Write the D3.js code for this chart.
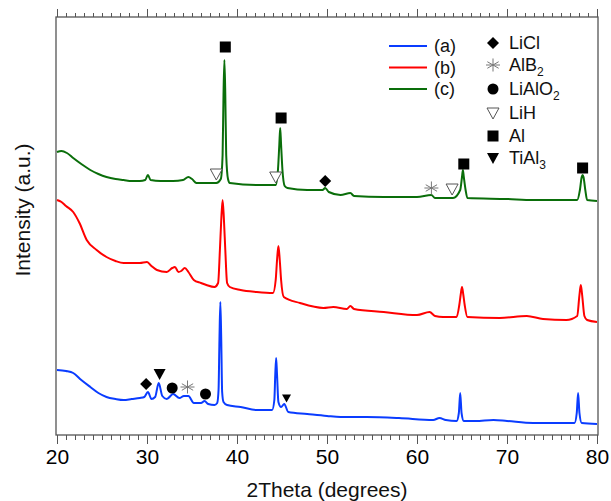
<!DOCTYPE html>
<meta charset="utf-8">
<style>
body { margin: 0; background: #fff; font-family: Arial, "Liberation Sans", sans-serif; }
.frame { fill: none; stroke: #555; stroke-width: 1.3; }
.axis path { display: none; }
.axis line { stroke: #555; stroke-width: 1; }
.axis text { font-size: 21px; fill: #000; font-family: Arial, "Liberation Sans", sans-serif; }
.curve { fill: none; stroke-width: 2; stroke-linejoin: round; }
.lbl { font-size: 21px; fill: #111; }
.leg { font-size: 18px; fill: #111; }
</style>
<body>
<div id="chart"></div>
<script src="https://d3js.org/d3.v7.min.js"></script>
<script>

// 2theta (deg), intensity (a.u., offset per pattern)
var seriesA = [[20,65],[21,64],[21.8,62],[22.7,55],[23.7,48],[24.6,42],[25.5,38],[26.5,36],[27.4,35],[28.3,36],[29.2,37],[29.7,38],
  [30.1,43],[30.5,36],[30.9,38],[31.3,52],[31.7,39],[32.2,36],[32.9,41],[33.6,37],[34.1,39],[34.6,39],[35.2,32],[36,32],[36.4,34],
  [36.8,31],[37.5,30],[37.8,32],[37.95,45],[38.05,95],[38.15,133],[38.25,95],[38.35,43],[38.5,33],[38.9,30],[40.4,28],[42.2,25],
  [43.9,25],[44.15,35],[44.25,60],[44.35,77],[44.45,60],[44.6,33],[44.9,28],[45.25,31],[45.7,23],[47.8,21],[50,19],[51.5,18],
  [54.4,18],[58,17],[61.8,15],[62.5,17],[63.2,15],[64.4,14],[64.65,22],[64.8,42],[64.95,22],[65.2,14],[66.5,14],[68.5,15],[70,14],
  [72.9,12],[75,12],[77.5,12],[77.75,22],[77.9,42],[78.05,22],[78.3,12],[80,11]];

var seriesB = [[20,235],[20.5,233],[21,229],[21.8,223],[22.5,212],[23.3,195],[24.4,185],[25.5,178],[26.5,174],[27.4,172],[28.3,172],
  [29.2,172],[30,173],[30.5,169],[31.1,165],[32.2,163],[32.8,167],[33.1,168],[33.5,163],[33.8,164],[34.2,167],[34.6,163],[35.2,155],
  [36,152],[36.6,150],[37.5,148],[37.9,152],[38.1,185],[38.25,215],[38.4,235],[38.55,215],[38.7,185],[38.9,152],[39.2,148],[40.4,145],
  [42.2,143],[44,142],[44.3,155],[44.45,175],[44.6,189],[44.75,175],[44.9,155],[45.2,138],[47,132],[49.6,127],[50.7,128],[52.2,126],
  [52.6,129],[53,126],[56.3,123],[60,120],[61.4,123],[62,119],[62.9,118],[64.4,118],[64.7,130],[64.85,140],[65,148],[65.15,140],
  [65.3,130],[65.6,118],[69.2,117],[72.2,119],[74,116],[76.6,115],[77.8,119],[78.05,140],[78.2,150],[78.35,140],[78.6,119],[78.9,115],[80,113]];

var seriesC = [[20,283],[20.5,284],[21.1,282],[21.8,277],[22.7,271],[23.7,265],[24.6,261],[25.5,258],[26.5,256],[27.4,255],[28.3,254],
  [29.2,254],[29.8,255],[30.1,260],[30.4,255],[31.5,254],[32.9,254],[34,255],[34.6,258],[35,256],[35.5,252],[37.7,252],[38.2,256],
  [38.4,280],[38.5,340],[38.6,375],[38.7,340],[38.8,280],[39,256],[39.2,252],[42.2,250],[44.3,250],[44.55,265],[44.7,290],[44.8,307],
  [44.9,290],[45.05,265],[45.3,249],[45.6,247],[47.8,245],[49.5,245],[49.8,247],[50.2,243],[51.5,240],[52.6,242],[53,239],[56.3,238],
  [60,238],[61.6,240],[62,237],[64,237],[64.8,245],[65,258],[65.1,265],[65.2,258],[65.4,245],[65.6,237],[70,236],[72.9,235],[77.8,235],
  [78.1,245],[78.3,258],[78.4,260],[78.5,258],[78.7,245],[78.9,235],[80,234]];

var seriesNames = ["(a)", "(b)", "(c)"];
var seriesColors = ["#0a3cff", "#ff0000", "#0a6e0a"];

// phase markers: [phase, 2theta, intensity]
var phases = ["LiCl", "AlB2", "LiAlO2", "LiH", "Al", "TiAl3"];
var phaseMarks = [
  ["Al", 38.7, 388], ["LiH", 37.7, 261], ["Al", 44.9, 317], ["LiH", 44.3, 258], ["LiCl", 49.8, 254],
  ["AlB2", 61.6, 247], ["LiH", 63.9, 246], ["Al", 65.2, 271], ["Al", 78.4, 267],
  ["LiCl", 29.9, 51], ["TiAl3", 31.4, 61], ["LiAlO2", 32.8, 47], ["AlB2", 34.5, 48], ["LiAlO2", 36.5, 41], ["TiAl3small", 45.5, 37]
];

var xTicks = [20, 30, 40, 50, 60, 70, 80];

var W = 611, H = 501;
var margin = {top: 17, right: 13, bottom: 66, left: 56};
var pw = W - margin.left - margin.right, ph = H - margin.top - margin.bottom;

var svg = d3.select("#chart").append("svg").attr("width", W).attr("height", H);
var g = svg.append("g").attr("transform", `translate(${margin.left},${margin.top})`);

var x = d3.scaleLinear().domain([20, 80]).range([1, pw - 1]);
var y = d3.scaleLinear().domain([0, 418]).range([ph, 0]);

// minor ticks every degree
g.append("g").attr("class", "axis")
  .attr("transform", `translate(0,${ph})`)
  .call(d3.axisBottom(x).tickValues(d3.range(20, 81, 1)).tickSize(5).tickFormat(""));
g.append("g").attr("class", "axis")
  .attr("transform", `translate(0,${ph})`)
  .call(d3.axisBottom(x).tickValues(xTicks).tickSize(9).tickPadding(5).tickFormat(d3.format("d")));
g.append("g").attr("class", "axis")
  .call(d3.axisTop(x).tickValues(d3.range(20, 81, 1)).tickSize(4).tickFormat(""));
g.append("g").attr("class", "axis")
  .call(d3.axisTop(x).tickValues(xTicks).tickSize(8).tickFormat(""));

g.append("rect").attr("class", "frame").attr("x", 0).attr("y", 0).attr("width", pw).attr("height", ph);

var line = d3.line().x(d => x(d[0])).y(d => y(d[1])).curve(d3.curveMonotoneX);

[seriesA, seriesB, seriesC].forEach(function(s, i) {
  g.append("path").attr("class", "curve").attr("d", line(s)).attr("stroke", seriesColors[i]);
});

// symbol drawing
function drawSymbol(sel, name, cx, cy) {
  var s;
  if (name === "LiCl") {
    s = sel.append("path").attr("d", "M0,-6L6,0L0,6L-6,0Z").attr("fill", "#000");
  } else if (name === "AlB2") {
    s = sel.append("path").attr("d", d3.symbol(d3.symbolAsterisk, 120)()).attr("fill", "none")
      .attr("stroke", "#777").attr("stroke-width", 1);
    sel.append("path").attr("d", "M-7,0H7").attr("stroke", "#777").attr("stroke-width", 1)
      .attr("transform", `translate(${cx},${cy})`);
  } else if (name === "LiAlO2") {
    s = sel.append("circle").attr("r", 5.5).attr("fill", "#000");
  } else if (name === "LiH") {
    s = sel.append("path").attr("d", "M-6,-5H6L0,6Z").attr("fill", "#fff").attr("stroke", "#555").attr("stroke-width", 1);
  } else if (name === "Al") {
    s = sel.append("rect").attr("x", -5.5).attr("y", -5.5).attr("width", 11).attr("height", 11).attr("fill", "#000");
  } else if (name === "TiAl3") {
    s = sel.append("path").attr("d", "M-6,-5H6L0,6Z").attr("fill", "#000");
  } else {
    s = sel.append("path").attr("d", "M-4.5,-3.5H4.5L0,4.5Z").attr("fill", "#000");
  }
  s.attr("transform", `translate(${cx},${cy})`);
}

var marks = g.append("g");
phaseMarks.forEach(function(m) { drawSymbol(marks, m[0], x(m[1]), y(m[2])); });

// legend: lines
var leg = svg.append("g");
seriesNames.forEach(function(n, i) {
  var ly = 46 + i * 21.5;
  leg.append("line").attr("x1", 389).attr("x2", 427).attr("y1", ly).attr("y2", ly)
    .attr("stroke", seriesColors[i]).attr("stroke-width", 1.8);
  leg.append("text").attr("class", "leg").attr("x", 434).attr("y", ly + 6).text(n);
});

// legend: phases
var phaseRows = [43, 65, 89, 113, 136, 158];
var phaseLabels = [["LiCl"], ["AlB", "2"], ["LiAlO", "2"], ["LiH"], ["Al"], ["TiAl", "3"]];
phases.forEach(function(p, i) {
  drawSymbol(leg, p, 493, phaseRows[i]);
  var t = leg.append("text").attr("class", "leg").attr("x", 509).attr("y", phaseRows[i] + 6).text(phaseLabels[i][0]);
  if (phaseLabels[i][1]) t.append("tspan").attr("font-size", "12px").attr("dy", 5).text(phaseLabels[i][1]);
});

svg.append("text").attr("class", "lbl").attr("x", margin.left + pw / 2).attr("y", 497)
  .attr("text-anchor", "middle").text("2Theta (degrees)");
svg.append("text").attr("class", "lbl").attr("transform", "translate(30,210) rotate(-90)")
  .attr("text-anchor", "middle").text("Intensity (a.u.)");
</script>
</body>
